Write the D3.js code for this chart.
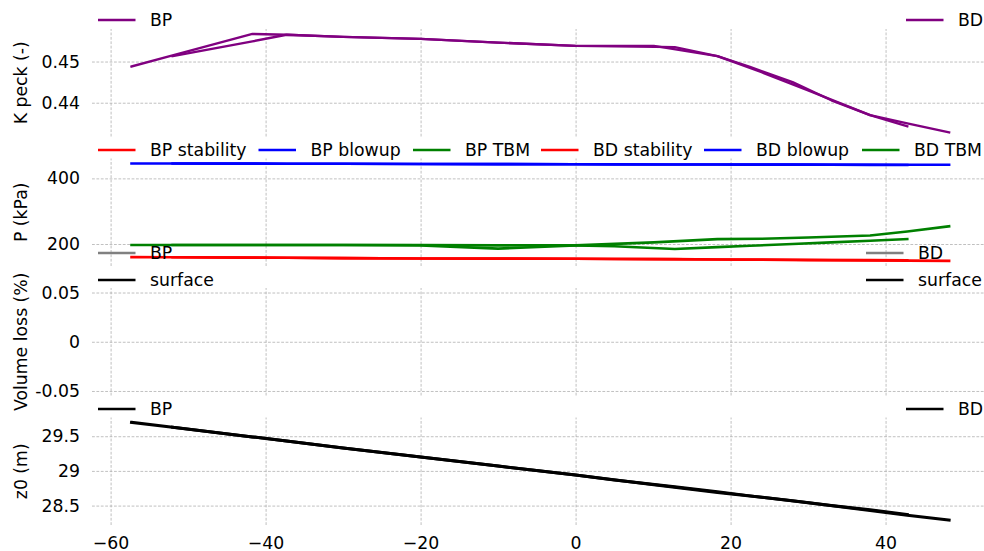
<!DOCTYPE html>
<html><head><meta charset="utf-8">
<script src="https://cdn.jsdelivr.net/npm/d3@7"></script>
<style>body{margin:0;background:#fff}svg{display:block}text{font-family:"DejaVu Sans",sans-serif}</style>
</head><body><svg id="c" width="984" height="551"></svg>
<script>
// chainage (m)
const chBP = [-57.3,-52,-41.7,-37.3,-30,-20,-10,0,5,12.8,18.3,22.5,28,33,38,42.8];
const chBD = [-52,-41.7,-37.3,-30,-20,-10,0,10.1,18.3,24,30,38,42.8,48.2];
// K peck
const kBP = [0.4488,0.4515,0.4567,0.4565,0.4560,0.4555,0.4546,0.4538,0.4537,0.4535,0.4513,0.4487,0.4450,0.4406,0.4370,0.4343];
const kBD = [0.4513,0.4549,0.4565,0.4560,0.4555,0.4546,0.4538,0.4538,0.4513,0.4474,0.4430,0.4370,0.4350,0.4328];
// pressures (kPa)
const stabBP = [160,159.5,158.5,158,157,156,155.5,155,154.5,154,153,152.5,152,151.5,151,150.5];
const blowBP = [445.5,445.3,445,444.8,444.5,444,443.5,443,442.8,442.5,442.2,442,441.8,441.5,441.3,441];
const tbmBP  = [197,197,197,197,197,197,196,196,193,185,190.5,194.7,200,205,210,215];
const stabBD = [159.5,158.5,158,157,156,155.5,155,154,153,152,151,150,149.5,148.5];
const blowBD = [445.3,445,444.8,444.5,444,443.5,443,442.5,442.2,442,441.8,441.6,441.5,441.5];
const tbmBD  = [197,197,197,197,196,186,196,205,215,216,220,226,238,254];
// volume loss (no finite values)
const vlBP = chBP.map(() => NaN);
const vlBD = chBD.map(() => NaN);
// z0 (m)
const zBP = [29.70,29.63,29.49,29.43,29.33,29.20,29.07,28.94,28.87,28.77,28.70,28.64,28.57,28.50,28.44,28.37];
const zBD = [29.63,29.49,29.43,29.33,29.20,29.07,28.94,28.80,28.69,28.62,28.54,28.43,28.36,28.29];

const xTicks = [-60,-40,-20,0,20,40];
const kTicks = [0.44,0.45];
const pTicks = [200,400];
const vTicks = [-0.05,0,0.05];
const zTicks = [28.5,29,29.5];

const FS = 17.3;
const svg = d3.select("#c");
const W = 984;
const x = d3.scaleLinear().domain([-62.4,52.7]).range([92,984]);
const fmtMinus = d => (d<0?"\u2212":"")+Math.abs(d);

const panels = [
  {top:29, dom:[0.4318,0.4579], ticks:kTicks, fmt:d=>d.toFixed(2), label:"K peck (-)"},
  {top:158.5, dom:[133,460.6], ticks:pTicks, fmt:d=>String(d), label:"P (kPa)"},
  {top:288, dom:[-0.0546,0.0546], ticks:vTicks, fmt:d=>d===0?"0":String(d), label:"Volume loss (%)"},
  {top:417.5, dom:[28.22,29.77], ticks:zTicks, fmt:d=>String(d), label:"z0 (m)"}
];
const H = 107.5;
panels.forEach(p => {
  p.y = d3.scaleLinear().domain(p.dom).range([p.top+H, p.top]);
  const g = svg.append("g");
  g.append("g").attr("transform",`translate(0,${p.top+H})`)
    .call(d3.axisBottom(x).tickValues(xTicks).tickSize(-H).tickFormat(""))
    .call(a=>{a.select(".domain").remove();a.selectAll("line").attr("stroke","#b0b0b0").attr("stroke-width",0.8).attr("stroke-dasharray","2.8,1.6");});
  g.append("g").attr("transform",`translate(92,0)`)
    .call(d3.axisLeft(p.y).tickValues(p.ticks).tickSize(-(W-92)).tickPadding(12).tickFormat(p.fmt))
    .call(a=>{a.select(".domain").remove();a.selectAll("line").attr("stroke","#b0b0b0").attr("stroke-width",0.8).attr("stroke-dasharray","2.8,1.6");
      a.selectAll("text").attr("font-size",FS).attr("fill","#000").attr("font-family","DejaVu Sans");});
  svg.append("text").attr("transform",`translate(20.5,${p.top+H/2}) rotate(-90)`)
    .attr("text-anchor","middle").attr("dy","0.36em").attr("font-size",FS).text(p.label);
});

const line = (xs, ys, yS) => d3.line().defined((d,i)=>isFinite(ys[i])).x((d,i)=>x(xs[i])).y((d,i)=>yS(ys[i]))(xs);
function draw(xs, ys, yS, color, w){
  const d = line(xs,ys,yS);
  if(!d) return;
  svg.append("path").attr("d", d).attr("fill","none").attr("stroke",color).attr("stroke-width",w).attr("stroke-linejoin","round").attr("stroke-linecap","square");
}
const [P1,P2,P3,P4] = panels;
draw(chBP,kBP,P1.y,"#800080",2.4);
draw(chBD,kBD,P1.y,"#800080",2.4);
draw(chBP,stabBP,P2.y,"#ff0000",2.6);
draw(chBP,blowBP,P2.y,"#0000ff",2.6);
draw(chBP,tbmBP,P2.y,"#008000",2.6);
draw(chBD,stabBD,P2.y,"#ff0000",2.6);
draw(chBD,blowBD,P2.y,"#0000ff",2.6);
draw(chBD,tbmBD,P2.y,"#008000",2.6);
draw(chBP,vlBP,P3.y,"#808080",2.6);
draw(chBD,vlBD,P3.y,"#808080",2.6);
draw(chBP,zBP,P4.y,"#000000",3);
draw(chBD,zBD,P4.y,"#000000",3);

function legend(items){
  items.forEach(it=>{
    svg.append("line").attr("x1",it.x).attr("x2",it.x+37.5).attr("y1",it.y).attr("y2",it.y)
      .attr("stroke",it.c).attr("stroke-width",2.6);
    svg.append("text").attr("x",it.x+52).attr("y",it.y).attr("dy","0.36em").attr("font-size",FS).text(it.t);
  });
}
legend([{x:98,y:20,c:"#800080",t:"BP"},{x:906,y:20,c:"#800080",t:"BD"}]);
legend([{x:98,y:150,c:"#ff0000",t:"BP stability"},{x:258.5,y:150,c:"#0000ff",t:"BP blowup"},{x:413,y:150,c:"#008000",t:"BP TBM"},
        {x:541,y:150,c:"#ff0000",t:"BD stability"},{x:704,y:150,c:"#0000ff",t:"BD blowup"},{x:862,y:150,c:"#008000",t:"BD TBM"}]);
legend([{x:98,y:253,c:"#808080",t:"BP"},{x:98,y:280,c:"#000000",t:"surface"},
        {x:866,y:253,c:"#808080",t:"BD"},{x:866,y:280,c:"#000000",t:"surface"}]);
legend([{x:98,y:409,c:"#000000",t:"BP"},{x:906,y:409,c:"#000000",t:"BD"}]);

svg.append("g").attr("transform",`translate(0,${P4.top+H})`)
  .call(d3.axisBottom(x).tickValues(xTicks).tickSize(0).tickPadding(12).tickFormat(fmtMinus))
  .call(a=>{a.select(".domain").remove();a.selectAll("text").attr("font-size",FS).attr("fill","#000").attr("font-family","DejaVu Sans");});
</script></body></html>
